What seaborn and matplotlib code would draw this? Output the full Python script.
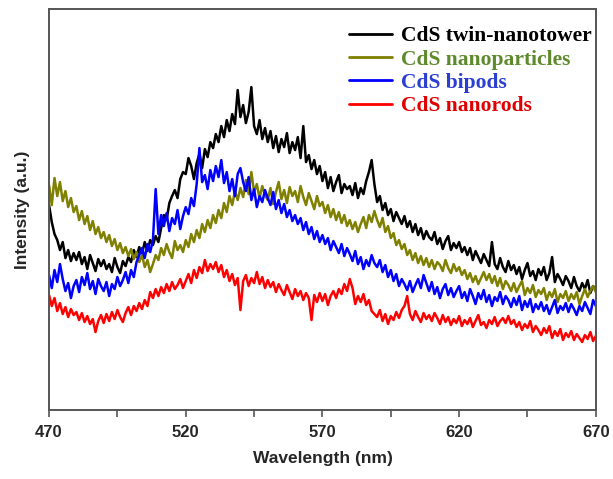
import numpy as np
import pandas as pd
import matplotlib
matplotlib.use("Agg")
import matplotlib.pyplot as plt
import seaborn as sns

# wavelength grid, 1 nm steps
wavelength = list(range(470, 671))

# intensities (arbitrary units)
twin_nanotower = [
    205, 188, 176, 170, 160, 168, 152, 160, 149, 157,
    150, 158, 146, 153, 141, 155, 147, 139, 151, 144,
    150, 141, 146, 138, 152, 143, 137, 149, 144, 153,
    148, 160, 153, 163, 156, 168, 159, 170, 165, 174,
    168, 182, 195, 190, 207, 214, 220, 212, 231, 238,
    236, 252, 244, 231, 247, 256, 242, 261, 253, 268,
    262, 276, 268, 284, 273, 290, 279, 296, 286, 320,
    293, 305, 287, 298, 323, 284, 276, 290, 271, 282,
    268, 279, 262, 274, 258, 271, 263, 277, 257, 268,
    260, 273, 252, 284, 248, 255, 241, 250, 236, 244,
    229, 238, 222, 233, 219, 228, 235, 217, 226, 221,
    224, 215, 227, 212, 222, 216, 229, 238, 250, 226,
    208, 214, 200, 207, 195, 201, 189, 198, 192, 186,
    194, 183, 189, 178, 186, 175, 182, 171, 179, 173,
    170, 178, 166, 172, 161, 169, 174, 160, 167, 162,
    168, 158, 163, 155, 162, 150, 159, 153, 147, 156,
    150, 144, 168, 146, 141, 152, 143, 138, 149, 140,
    145, 136, 143, 131, 140, 147, 134, 139, 130, 141,
    135, 143, 130, 137, 153, 128, 136, 131, 125, 134,
    129, 122, 133, 124, 119, 127, 121, 130, 117, 124,
    120,
]

nanoparticles = [
    225, 205, 232, 214, 228, 209, 219, 203, 212, 198,
    204, 190, 199, 186, 194, 180, 189, 176, 183, 172,
    178, 168, 175, 164, 171, 160, 167, 157, 163, 154,
    161, 151, 158, 148, 155, 143, 150, 138, 146, 155,
    150, 162, 155, 166, 158, 152, 169, 160, 165, 158,
    170, 163, 176, 168, 180, 172, 186, 178, 190, 182,
    195, 187, 200, 192, 207, 198, 214, 205, 219, 210,
    222, 213, 230, 216, 238, 218, 226, 212, 224, 215,
    210, 222, 206, 218, 228, 211, 220, 207, 223, 214,
    219, 208, 224, 213, 205, 217, 209, 201, 214, 204,
    208, 197, 205, 193, 201, 190, 198, 187, 195, 184,
    190, 181, 188, 178, 186, 193, 182, 195, 188, 199,
    190, 183, 192, 178, 184, 172, 177, 165, 170, 161,
    166, 155, 160, 150, 157, 147, 154, 145, 152, 143,
    150, 141, 148, 145, 139, 150, 142, 137, 146, 139,
    143, 135, 140, 131, 137, 128, 134, 126, 132, 138,
    130, 136, 127, 134, 124, 132, 121, 129, 125, 119,
    127, 118, 124, 129, 115, 122, 117, 125, 113, 120,
    116, 122, 110, 118, 113, 121, 108, 116, 112, 119,
    109, 116, 111, 118, 106, 114, 121, 113, 119, 124,
    118,
]

bipods = [
    135, 122, 140, 128, 146, 131, 119, 127, 112, 124,
    130, 118, 133, 125, 137, 121, 129, 116, 131, 124,
    119, 128, 114, 126, 121, 133, 124, 130, 138, 127,
    140, 133, 148, 155, 162, 152, 166, 158, 170, 221,
    176, 195, 184, 197, 179, 192, 186, 200, 181, 194,
    203, 196, 212, 204, 226, 262, 228, 235, 221, 240,
    229, 244, 233, 250, 227, 238, 219, 231, 214, 236,
    242, 228, 219, 233, 210, 221, 203, 214, 208, 220,
    212, 205, 218, 201, 210, 197, 206, 193, 200, 189,
    195, 186, 192, 180, 188, 176, 183, 171, 179, 168,
    175, 166, 172, 160, 169, 163, 157, 166, 154, 162,
    156, 149, 159, 146, 153, 141, 150, 144, 155, 147,
    143, 150, 138, 145, 133, 140, 129, 136, 124, 131,
    126, 120, 129, 118, 125, 131, 122, 135, 127, 119,
    128, 116, 123, 112, 121, 126, 115, 122, 113, 119,
    124, 112, 118, 109, 121, 114, 106, 117, 111, 120,
    108, 115, 104, 113, 109, 118, 106, 114, 110, 103,
    112, 105, 114, 100, 109, 103, 111, 98, 106, 101,
    108, 99, 105, 96, 103, 110, 97, 104, 100, 107,
    98, 106, 101, 95, 104, 99, 108, 102, 96, 110,
    104,
]

nanorods = [
    115, 104, 112, 99, 107, 96, 103, 93, 101, 95,
    98, 90, 97, 88, 94, 86, 91, 78, 89, 95,
    87, 96, 89, 98, 91, 100, 93, 88, 97, 103,
    95, 104, 99, 107, 101, 110, 104, 118, 112, 121,
    114, 123, 117, 126, 119, 128, 121, 125, 131, 122,
    129, 136, 127, 140, 132, 143, 137, 150, 139, 146,
    141, 148, 138, 145, 133, 140, 129, 136, 125, 132,
    100, 129, 135, 124, 132, 127, 138, 126, 133, 122,
    130, 123, 128, 118, 126, 120, 115, 125, 118, 111,
    121, 114, 119, 110, 117, 112, 90, 115, 108, 117,
    109, 116, 105, 114, 119, 112, 121, 116, 126, 119,
    131, 122, 106, 114, 108, 116, 105, 110, 99, 96,
    93, 100, 89, 96, 86, 94, 90, 98, 92, 100,
    104, 114, 96, 90, 99, 93, 88, 97, 91, 95,
    89, 97, 92, 86, 95, 88, 93, 85, 91, 87,
    94, 84, 90, 86, 92, 83, 89, 95, 85, 88,
    82, 90, 86, 93, 84, 89, 92, 87, 94, 86,
    90, 83, 88, 80, 86, 82, 89, 78, 84, 80,
    75, 82, 77, 84, 72, 79, 74, 81, 70, 77,
    73, 79, 70, 76, 72, 68, 75, 71, 78, 69,
    74,
]

labels = ["CdS twin-nanotower", "CdS nanoparticles", "CdS bipods", "CdS nanorods"]
line_colors = ["#000000", "#808000", "#0000ff", "#ff0000"]
text_colors = ["#000000", "#5e8a2c", "#2a3fd2", "#e00000"]

frames = []
for name, vals in zip(labels, [twin_nanotower, nanoparticles, bipods, nanorods]):
    frames.append(pd.DataFrame({"Wavelength": wavelength, "Intensity": vals, "Sample": name}))
df = pd.concat(frames, ignore_index=True)

sns.set_style("white")
plt.rcParams["font.family"] = ["Liberation Sans", "DejaVu Sans"]

fig = plt.figure(figsize=(6.13, 4.79), dpi=100)
ax = fig.add_axes([0.080, 0.144, 0.892, 0.837])

sns.lineplot(data=df, x="Wavelength", y="Intensity", hue="Sample",
             palette=dict(zip(labels, line_colors)), hue_order=labels,
             linewidth=1.8, ax=ax)

ax.set_xlim(470, 670)
ax.set_ylim(0, 401)
ax.set_xticks([470, 520, 570, 620, 670])
ax.set_xticks([495, 545, 595, 645], minor=True)
ax.set_yticks([])
ax.tick_params(axis="x", which="both", direction="out", bottom=True,
               length=5, width=1.2, color="#555555", labelsize=12, pad=6)
for lab in ax.get_xticklabels():
    lab.set_fontweight("bold")
for sp in ax.spines.values():
    sp.set_color("#555555")
    sp.set_linewidth(1.4)

ax.set_xlabel("Wavelength (nm)", fontsize=12.5, fontweight="bold", labelpad=8)
ax.set_ylabel("Intensity (a.u.)", fontsize=12.5, fontweight="bold", labelpad=14)

leg = ax.legend(loc="upper right", frameon=False, handlelength=2.0,
                handletextpad=0.4, labelspacing=0.15, borderaxespad=0.0,
                bbox_to_anchor=(1.008, 0.9785),
                prop={"family": "Liberation Serif", "weight": "bold", "size": 15.5})
for txt, c in zip(leg.get_texts(), text_colors):
    txt.set_color(c)
for h in leg.get_lines():
    h.set_linewidth(2)

fig.savefig("out.png", dpi=100)
